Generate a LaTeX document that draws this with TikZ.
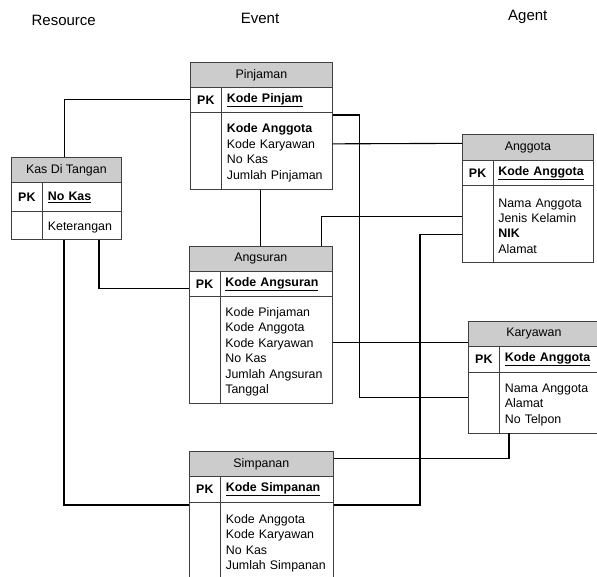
\documentclass[tikz,border=0pt]{standalone}
\usepackage{fontspec}
\setmainfont{Liberation Sans}

\newcommand\tblfont{\fontsize{12.4}{15.4}\selectfont}

\tikzset{
  tbl/.style={draw=black!75, line width=0.7pt, fill=white, inner sep=0pt, anchor=north west, font=\tblfont},
  tblhead/.style={tbl, fill=black!20},
  tblpk/.style={tbl, font=\tblfont\bfseries},
  tblkey/.style={tbl, align=left, inner xsep=5.5pt, font=\tblfont\bfseries},
  tblattr/.style={tbl, align=left, inner xsep=5.5pt, execute at begin node={\rule{0pt}{13pt}}},
  relasi/.style={draw=black, line width=1.1pt},
  judul/.style={anchor=base, font=\fontsize{15}{18}\selectfont}
}

\begin{document}
\begin{tikzpicture}[x=1pt, y=-1pt]
    \useasboundingbox (0, 0) rectangle (597, 577);
    \clip (0, 0) rectangle (597, 577);

    % judul kolom
    \node[judul] (resource) at (63.7, 25.7) {Resource};
    \node[judul] (event) at (260, 23.3) {Event};
    \node[judul] (agent) at (527.8, 21) {Agent};

    % Pinjaman
    \node[tblhead, minimum width=142pt, minimum height=25pt] (pinjaman) at (190, 62) {Pinjaman};
    \node[tblpk, minimum width=31pt, minimum height=25pt] (pinjamanPK) at (190, 87) {PK};
    \node[tblkey, text width=100pt, minimum height=25pt] (pinjamanKey) at (221, 87) {\underline{Kode Pinjam}};
    \node[tbl, minimum width=31pt, minimum height=77pt] (pinjamanGap) at (190, 112) {};
    \node[tblattr, text width=100pt, minimum height=77pt] (pinjamanAttr) at (221, 112)
        {\textbf{Kode Anggota}\\Kode Karyawan\\No Kas\\Jumlah Pinjaman};

    % Kas Di Tangan
    \node[tblhead, minimum width=110pt, minimum height=25.5pt] (kas) at (11, 157) {Kas Di Tangan};
    \node[tblpk, minimum width=31pt, minimum height=28.5pt] (kasPK) at (11, 182.5) {PK};
    \node[tblkey, text width=68pt, minimum height=28.5pt] (kasKey) at (42, 182.5) {\underline{No Kas}};
    \node[tbl, minimum width=31pt, minimum height=28pt] (kasGap) at (11, 211) {};
    \node[tblattr, text width=68pt, minimum height=28pt, execute at begin node={}] (kasAttr) at (42, 211) {Keterangan};

    % Angsuran
    \node[tblhead, minimum width=143pt, minimum height=25pt] (angsuran) at (189, 246) {Angsuran};
    \node[tblpk, minimum width=30.5pt, minimum height=25pt] (angsuranPK) at (189, 271) {PK};
    \node[tblkey, text width=101.5pt, minimum height=25pt] (angsuranKey) at (219.5, 271) {\underline{Kode Angsuran}};
    \node[tbl, minimum width=30.5pt, minimum height=107pt] (angsuranGap) at (189, 296) {};
    \node[tblattr, text width=101.5pt, minimum height=107pt] (angsuranAttr) at (219.5, 296)
        {Kode Pinjaman\\Kode Anggota\\Kode Karyawan\\No Kas\\Jumlah Angsuran\\Tanggal};

    % Anggota
    \node[tblhead, minimum width=131pt, minimum height=26pt] (anggota) at (462, 134) {Anggota};
    \node[tblpk, minimum width=30.5pt, minimum height=25pt] (anggotaPK) at (462, 160) {PK};
    \node[tblkey, text width=89.5pt, minimum height=25pt] (anggotaKey) at (492.5, 160) {\underline{Kode Anggota}};
    \node[tbl, minimum width=30.5pt, minimum height=77pt] (anggotaGap) at (462, 185) {};
    \node[tblattr, text width=89.5pt, minimum height=77pt] (anggotaAttr) at (492.5, 185)
        {Nama Anggota\\Jenis Kelamin\\\textbf{NIK}\\Alamat};

    % Karyawan
    \node[tblhead, minimum width=131pt, minimum height=25pt] (karyawan) at (468, 321) {Karyawan};
    \node[tblpk, minimum width=31pt, minimum height=26pt] (karyawanPK) at (468, 346) {PK};
    \node[tblkey, text width=89pt, minimum height=26pt] (karyawanKey) at (499, 346) {\underline{Kode Anggota}};
    \node[tbl, minimum width=31pt, minimum height=60.5pt] (karyawanGap) at (468, 372) {};
    \node[tblattr, text width=89pt, minimum height=60.5pt] (karyawanAttr) at (499, 372)
        {Nama Anggota\\Alamat\\No Telpon};

    % Simpanan
    \node[tblhead, minimum width=144pt, minimum height=25pt] (simpanan) at (189, 451) {Simpanan};
    \node[tblpk, minimum width=31pt, minimum height=26pt] (simpananPK) at (189, 476) {PK};
    \node[tblkey, text width=102pt, minimum height=26pt] (simpananKey) at (220, 476) {\underline{Kode Simpanan}};
    \node[tbl, minimum width=31pt, minimum height=78pt] (simpananGap) at (189, 502) {};
    \node[tblattr, text width=102pt, minimum height=78pt] (simpananAttr) at (220, 502)
        {Kode Anggota\\Kode Karyawan\\No Kas\\Jumlah Simpanan};

    % relasi
    \draw[relasi] ([xshift=-2pt]kas.north) |- (pinjamanPK.west);
    \draw[relasi] (angsuran.north |- pinjamanAttr.south) -- (angsuran.north);
    \draw[relasi] ([xshift=57pt]kasAttr.south west) |- ([yshift=-4.5pt]angsuranPK.west);
    \draw[relasi] ([xshift=22pt]kasAttr.south west) |- ([yshift=-3pt]simpananGap.north west);
    \draw[relasi] ([xshift=-11pt]angsuran.north east) |- ([yshift=7.5pt]anggotaGap.west);
    \draw[relasi] ([yshift=-3pt]pinjamanAttr.north east) -- ++(27, 0) |- ([yshift=5pt]karyawanGap.west);
    \draw[relasi] ([yshift=7pt]pinjamanAttr.east) -- ([yshift=4pt]anggota.west);
    \draw[relasi] ([yshift=7.5pt]angsuranAttr.east) -- ([yshift=-8.5pt]karyawan.west);
    \draw[relasi] ([yshift=-10.5pt]anggotaGap.west) -- ++(-42, 0) |- ([yshift=-3pt]simpananAttr.north east);
    \draw[relasi] ([xshift=10pt]karyawanAttr.south west) |- ([yshift=5.5pt]simpanan.east);

\end{tikzpicture}
\end{document}
